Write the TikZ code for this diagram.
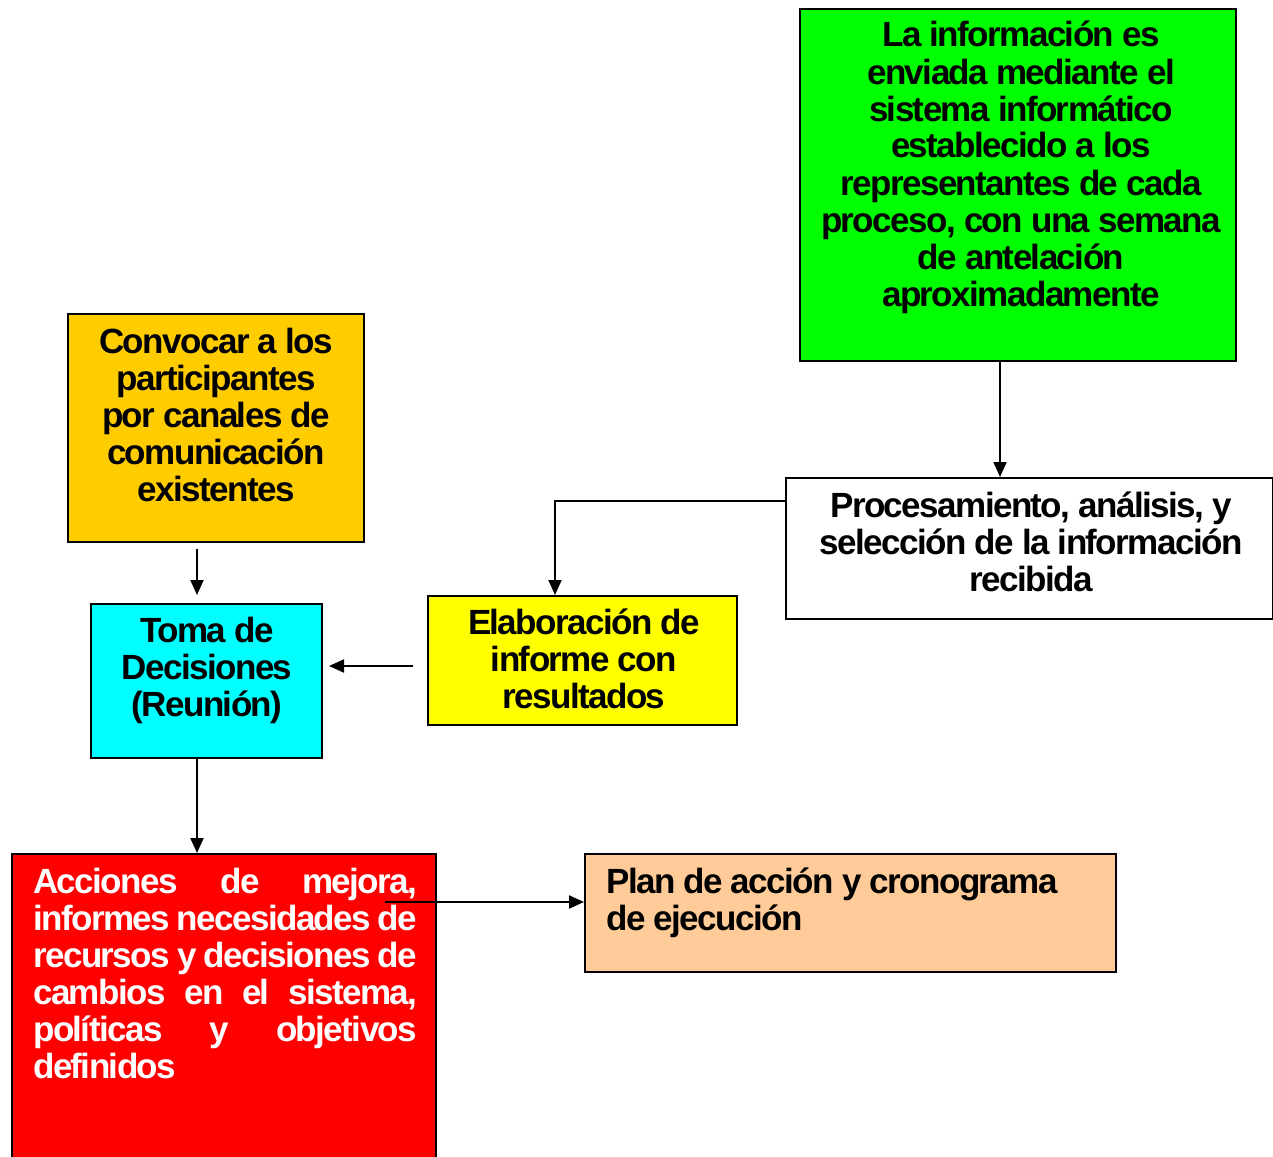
\documentclass[tikz,border=0pt]{standalone}
\usepackage{fontspec}
\setmainfont{Liberation Sans}[LetterSpace=-4.5]
\usetikzlibrary{arrows.meta,calc}

\definecolor{cgreen}{RGB}{0,255,0}
\definecolor{corange}{RGB}{255,204,0}
\definecolor{ccyan}{RGB}{0,255,255}
\definecolor{cyellow}{RGB}{255,255,0}
\definecolor{cred}{RGB}{255,0,0}
\definecolor{cpeach}{RGB}{255,204,153}

% centred block of lines whose baseline is the first line's
\newcommand{\centredlines}[1]{\begin{tabular}[t]{@{}c@{}}#1\end{tabular}}

\tikzset{
  box/.style={draw=black, line width=2pt, anchor=north west, inner sep=0pt},
  words/.style={anchor=base, inner sep=0pt,
    font=\fontsize{35}{37}\selectfont\bfseries},
  arrow/.style={line width=2pt, -{Triangle[length=15pt,width=13pt]}}
}

\begin{document}
\begin{tikzpicture}[x=1pt,y=-1pt]
\useasboundingbox (0,0) rectangle (1273,1156);
\clip (0,0) rectangle (1273,1156);

% boxes
\node[box, fill=cgreen,  minimum width=436pt, minimum height=352pt] (green) at (799,8) {};
\node[box, fill=white,   minimum width=487pt, minimum height=141pt] (proc)  at (785,477) {};
\node[box, fill=cyellow, minimum width=309pt, minimum height=129pt] (elab)  at (427,595) {};
\node[box, fill=corange, minimum width=296pt, minimum height=228pt] (conv)  at (67,313) {};
\node[box, fill=ccyan,   minimum width=231pt, minimum height=154pt] (toma)  at (90,603) {};
\node[box, fill=cred,    minimum width=424pt, minimum height=340pt] (act)   at (11,853) {};
\node[box, fill=cpeach,  minimum width=531pt, minimum height=118pt] (plan)  at (584,853) {};

% texts
\node[words] (greentxt) at (1021,47) {\centredlines{La información es\\
  enviada mediante el\\ sistema informático\\ establecido a los\\
  representantes de cada\\ proceso, con una semana\\ de antelación\\
  aproximadamente}};
\node[words] (proctxt) at (1031,517) {\centredlines{Procesamiento, análisis, y\\
  selección de la información\\ recibida}};
\node[words] (elabtxt) at (584,634) {\centredlines{Elaboración de\\ informe con\\ resultados}};
\node[words] (convtxt) at (216,353) {\centredlines{Convocar a los\\ participantes\\
  por canales de\\ comunicación\\ existentes}};
\node[words] (tomatxt) at (207,642) {\centredlines{Toma de\\ Decisiones\\ (Reunión)}};
\node[words, anchor=base west, text=white] (acttxt) at (33,893)
  {\parbox[t]{384pt}{\hyphenpenalty=10000\parindent=0pt
   Acciones de mejora,\linebreak informes necesidades de\linebreak
   recursos y decisiones de\linebreak cambios en el sistema,\linebreak
   políticas y objetivos\linebreak definidos}};
\node[words, anchor=base west] (plantxt) at (606,893)
  {\begin{tabular}[t]{@{}l@{}}Plan de acción y cronograma\\ de ejecución\end{tabular}};

% connectors
\draw[arrow] ($(green.south west)+(201,0)$) -- ($(proc.north west)+(215,0)$);
\draw[arrow] ($(proc.north west)+(0,24)$) -| ($(elab.north west)+(128,0)$);
\draw[arrow] ($(elab.west)+(-14,5.5)$) -- ($(toma.east)+(6,-15)$);
\draw[arrow] ($(conv.south west)+(130,6)$) -- ($(toma.north west)+(107,-8)$);
\draw[arrow] ($(toma.south west)+(107,0)$) -- ($(act.north west)+(186,0)$);
\draw[arrow] ($(act.north west)+(374,49)$) -- ($(plan.north west)+(0,49)$);
\end{tikzpicture}
\end{document}
